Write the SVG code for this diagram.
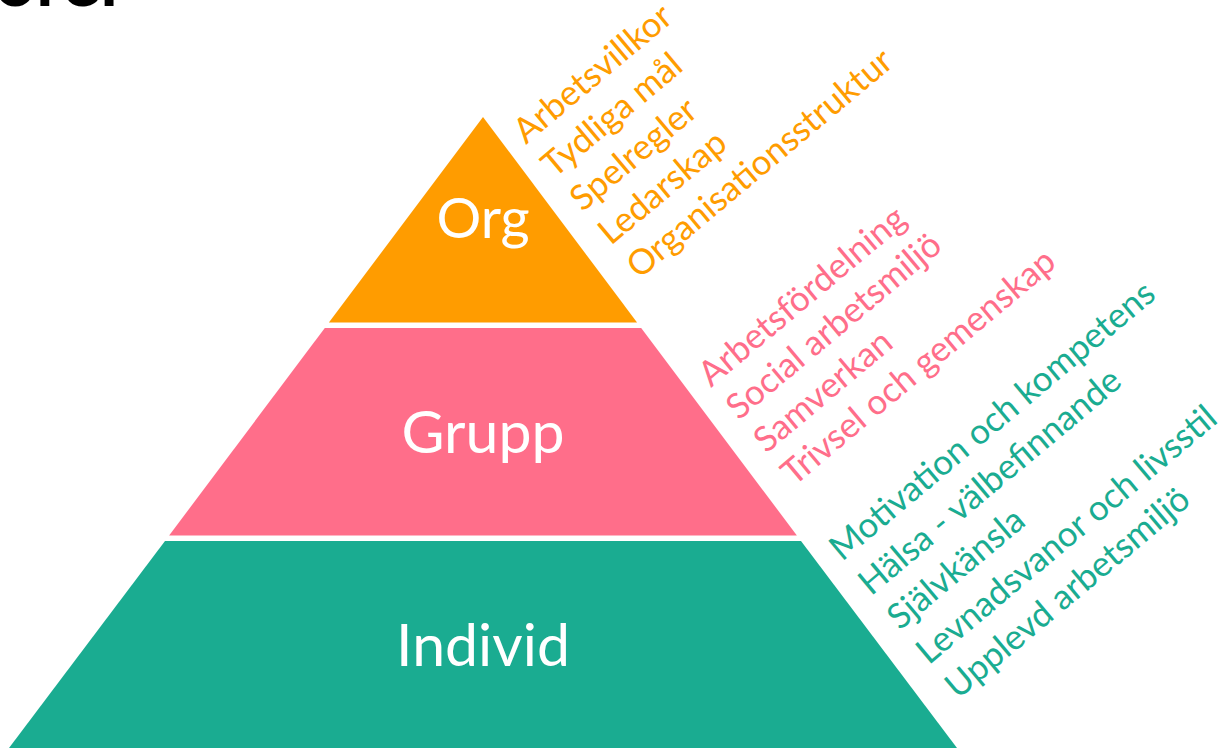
<svg xmlns="http://www.w3.org/2000/svg" width="1221" height="748" viewBox="0 0 1221 748">
  <style>
    .tier-label { font-family: Lato, "Liberation Sans", sans-serif; font-size: 59px; fill: #ffffff; text-anchor: middle; }
    .factors { font-family: Lato, "Liberation Sans", sans-serif; font-size: 35px; }
    .org-c { fill: #ff9c00; }
    .grp-c { fill: #ff6e8a; }
    .ind-c { fill: #1aac91; }
    .title { font-family: Lato, "Liberation Sans", sans-serif; font-weight: 700; font-size: 72px; fill: #000000; }
  </style>
  <rect width="1221" height="748" fill="#ffffff"/>

  <!-- heading, mostly above the top edge -->
  <text class="title" x="127" y="6" text-anchor="end">Friskfaktorer</text>

  <!-- pyramid tiers -->
  <g id="tier-org">
    <polygon class="org-c" points="483,117 637.1,322.5 328.9,322.5"/>
    <text class="tier-label" x="483" y="238" style="font-size:56px">Org</text>
  </g>
  <g id="tier-grupp">
    <polygon class="grp-c" points="324.8,328 641.2,328 796.9,535.5 169.1,535.5"/>
    <text class="tier-label" x="483" y="453">Grupp</text>
  </g>
  <g id="tier-individ">
    <polygon class="ind-c" points="165,541 801,541 957,748 9,748"/>
    <text class="tier-label" x="483" y="666">Individ</text>
  </g>

  <!-- factor lists beside each tier -->
  <g id="factors-org" class="factors org-c" transform="translate(526,145) rotate(-40)">
    <text x="0" y="0">Arbetsvillkor</text>
    <text x="0" y="44">Tydliga mål</text>
    <text x="0" y="88">Spelregler</text>
    <text x="0" y="132">Ledarskap</text>
    <text x="0" y="176">Organisationsstruktur</text>
  </g>
  <g id="factors-grupp" class="factors grp-c" transform="translate(711,388) rotate(-40)">
    <text x="0" y="0">Arbetsfördelning</text>
    <text x="0" y="43">Social arbetsmiljö</text>
    <text x="0" y="86">Samverkan</text>
    <text x="0" y="129">Trivsel och gemenskap</text>
  </g>
  <g id="factors-individ" class="factors ind-c" transform="translate(842,562) rotate(-40)">
    <text x="0" y="0">Motivation och kompetens</text>
    <text x="0" y="45">Hälsa - välbefinnande</text>
    <text x="0" y="90">Självkänsla</text>
    <text x="0" y="135">Levnadsvanor och livsstil</text>
    <text x="0" y="180">Upplevd arbetsmiljö</text>
  </g>
</svg>
